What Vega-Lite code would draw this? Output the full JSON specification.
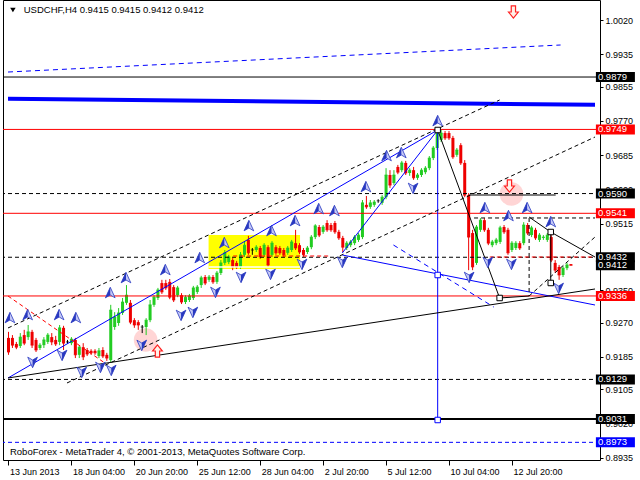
{
"$schema": "https://vega.github.io/schema/vega-lite/v6.json",
"width": 597, "height": 460,
"autosize": {"type": "none"},
"padding": {"left": 3, "top": 0, "right": 40, "bottom": 20},
"background": "white",
"config": {"font": "Liberation Sans", "view": {"stroke": "black", "strokeWidth": 1}},
"datasets": {
"candles": [
{"i":0,"o":0.9232,"h":0.9247,"l":0.9190,"c":0.9197},{"i":1,"o":0.9232,"h":0.9239,"l":0.9207,"c":0.9214},{"i":2,"o":0.9217,"h":0.9222,"l":0.9204,"c":0.9209},{"i":3,"o":0.9212,"h":0.9244,"l":0.9207,"c":0.9234},{"i":4,"o":0.9239,"h":0.9252,"l":0.9214,"c":0.9219},{"i":5,"o":0.9234,"h":0.9264,"l":0.9227,"c":0.9247},{"i":6,"o":0.9247,"h":0.9252,"l":0.9207,"c":0.9214},{"i":7,"o":0.9227,"h":0.9232,"l":0.9197,"c":0.9202},{"i":8,"o":0.9207,"h":0.9219,"l":0.9202,"c":0.9214},{"i":9,"o":0.9214,"h":0.9234,"l":0.9207,"c":0.9227},
{"i":10,"o":0.9222,"h":0.9244,"l":0.9217,"c":0.9239},{"i":11,"o":0.9234,"h":0.9244,"l":0.9214,"c":0.9222},{"i":12,"o":0.9227,"h":0.9237,"l":0.9212,"c":0.9217},{"i":13,"o":0.9222,"h":0.9264,"l":0.9214,"c":0.9257},{"i":14,"o":0.9257,"h":0.9262,"l":0.9202,"c":0.9219},{"i":15,"o":0.9222,"h":0.9227,"l":0.9217,"c":0.9222},{"i":16,"o":0.9219,"h":0.9234,"l":0.9214,"c":0.9229},{"i":17,"o":0.9227,"h":0.9232,"l":0.9182,"c":0.9190},{"i":18,"o":0.9190,"h":0.9214,"l":0.9182,"c":0.9209},{"i":19,"o":0.9209,"h":0.9219,"l":0.9177,"c":0.9185},
{"i":20,"o":0.9202,"h":0.9207,"l":0.9187,"c":0.9192},{"i":21,"o":0.9200,"h":0.9204,"l":0.9190,"c":0.9195},{"i":22,"o":0.9200,"h":0.9204,"l":0.9190,"c":0.9195},{"i":23,"o":0.9187,"h":0.9207,"l":0.9182,"c":0.9200},{"i":24,"o":0.9202,"h":0.9209,"l":0.9182,"c":0.9187},{"i":25,"o":0.9190,"h":0.9195,"l":0.9175,"c":0.9182},{"i":26,"o":0.9177,"h":0.9314,"l":0.9172,"c":0.9301},{"i":27,"o":0.9259,"h":0.9296,"l":0.9252,"c":0.9284},{"i":28,"o":0.9269,"h":0.9306,"l":0.9262,"c":0.9294},{"i":29,"o":0.9294,"h":0.9331,"l":0.9289,"c":0.9321},
{"i":30,"o":0.9319,"h":0.9363,"l":0.9314,"c":0.9338},{"i":31,"o":0.9319,"h":0.9326,"l":0.9266,"c":0.9271},{"i":32,"o":0.9276,"h":0.9281,"l":0.9257,"c":0.9264},{"i":33,"o":0.9271,"h":0.9276,"l":0.9252,"c":0.9264},{"i":34,"o":0.9259,"h":0.9264,"l":0.9244,"c":0.9259},{"i":35,"o":0.9259,"h":0.9281,"l":0.9239,"c":0.9276},{"i":36,"o":0.9276,"h":0.9326,"l":0.9271,"c":0.9314},{"i":37,"o":0.9314,"h":0.9338,"l":0.9309,"c":0.9333},{"i":38,"o":0.9331,"h":0.9356,"l":0.9326,"c":0.9351},{"i":39,"o":0.9368,"h":0.9376,"l":0.9341,"c":0.9346},
{"i":40,"o":0.9368,"h":0.9376,"l":0.9351,"c":0.9356},{"i":41,"o":0.9371,"h":0.9378,"l":0.9328,"c":0.9333},{"i":42,"o":0.9358,"h":0.9363,"l":0.9321,"c":0.9326},{"i":43,"o":0.9338,"h":0.9361,"l":0.9333,"c":0.9356},{"i":44,"o":0.9338,"h":0.9343,"l":0.9316,"c":0.9321},{"i":45,"o":0.9321,"h":0.9338,"l":0.9316,"c":0.9333},{"i":46,"o":0.9326,"h":0.9341,"l":0.9321,"c":0.9336},{"i":47,"o":0.9331,"h":0.9361,"l":0.9326,"c":0.9356},{"i":48,"o":0.9346,"h":0.9363,"l":0.9341,"c":0.9358},{"i":49,"o":0.9363,"h":0.9386,"l":0.9356,"c":0.9381},
{"i":50,"o":0.9383,"h":0.9388,"l":0.9363,"c":0.9368},{"i":51,"o":0.9376,"h":0.9388,"l":0.9371,"c":0.9383},{"i":52,"o":0.9383,"h":0.9388,"l":0.9366,"c":0.9371},{"i":53,"o":0.9371,"h":0.9398,"l":0.9366,"c":0.9393},{"i":54,"o":0.9393,"h":0.9425,"l":0.9388,"c":0.9418},{"i":55,"o":0.9418,"h":0.9450,"l":0.9413,"c":0.9443},{"i":56,"o":0.9420,"h":0.9438,"l":0.9415,"c":0.9433},{"i":57,"o":0.9425,"h":0.9430,"l":0.9400,"c":0.9408},{"i":58,"o":0.9418,"h":0.9423,"l":0.9403,"c":0.9408},{"i":59,"o":0.9408,"h":0.9445,"l":0.9403,"c":0.9438},
{"i":60,"o":0.9438,"h":0.9470,"l":0.9433,"c":0.9462},{"i":61,"o":0.9475,"h":0.9485,"l":0.9438,"c":0.9443},{"i":62,"o":0.9450,"h":0.9455,"l":0.9438,"c":0.9450},{"i":63,"o":0.9450,"h":0.9462,"l":0.9445,"c":0.9457},{"i":64,"o":0.9455,"h":0.9460,"l":0.9428,"c":0.9433},{"i":65,"o":0.9438,"h":0.9467,"l":0.9433,"c":0.9462},{"i":66,"o":0.9457,"h":0.9462,"l":0.9408,"c":0.9413},{"i":67,"o":0.9438,"h":0.9472,"l":0.9433,"c":0.9467},{"i":68,"o":0.9457,"h":0.9462,"l":0.9438,"c":0.9443},{"i":69,"o":0.9455,"h":0.9460,"l":0.9438,"c":0.9443},
{"i":70,"o":0.9450,"h":0.9455,"l":0.9433,"c":0.9438},{"i":71,"o":0.9443,"h":0.9460,"l":0.9438,"c":0.9455},{"i":72,"o":0.9450,"h":0.9475,"l":0.9445,"c":0.9470},{"i":73,"o":0.9467,"h":0.9500,"l":0.9450,"c":0.9455},{"i":74,"o":0.9462,"h":0.9467,"l":0.9440,"c":0.9445},{"i":75,"o":0.9450,"h":0.9455,"l":0.9433,"c":0.9438},{"i":76,"o":0.9445,"h":0.9460,"l":0.9440,"c":0.9455},{"i":77,"o":0.9457,"h":0.9487,"l":0.9452,"c":0.9482},{"i":78,"o":0.9482,"h":0.9514,"l":0.9477,"c":0.9510},{"i":79,"o":0.9507,"h":0.9512,"l":0.9482,"c":0.9487},
{"i":80,"o":0.9495,"h":0.9512,"l":0.9490,"c":0.9507},{"i":81,"o":0.9517,"h":0.9524,"l":0.9495,"c":0.9500},{"i":82,"o":0.9512,"h":0.9517,"l":0.9495,"c":0.9500},{"i":83,"o":0.9517,"h":0.9522,"l":0.9490,"c":0.9495},{"i":84,"o":0.9495,"h":0.9500,"l":0.9475,"c":0.9480},{"i":85,"o":0.9480,"h":0.9485,"l":0.9445,"c":0.9457},{"i":86,"o":0.9455,"h":0.9472,"l":0.9450,"c":0.9467},{"i":87,"o":0.9462,"h":0.9475,"l":0.9457,"c":0.9470},{"i":88,"o":0.9467,"h":0.9487,"l":0.9462,"c":0.9482},{"i":89,"o":0.9475,"h":0.9492,"l":0.9470,"c":0.9487},
{"i":90,"o":0.9482,"h":0.9574,"l":0.9477,"c":0.9567},{"i":91,"o":0.9562,"h":0.9584,"l":0.9552,"c":0.9557},{"i":92,"o":0.9557,"h":0.9574,"l":0.9552,"c":0.9567},{"i":93,"o":0.9562,"h":0.9574,"l":0.9557,"c":0.9569},{"i":94,"o":0.9572,"h":0.9576,"l":0.9567,"c":0.9572},{"i":95,"o":0.9567,"h":0.9586,"l":0.9562,"c":0.9581},{"i":96,"o":0.9581,"h":0.9653,"l":0.9576,"c":0.9636},{"i":97,"o":0.9636,"h":0.9648,"l":0.9604,"c":0.9611},{"i":98,"o":0.9616,"h":0.9648,"l":0.9611,"c":0.9636},{"i":99,"o":0.9656,"h":0.9661,"l":0.9638,"c":0.9643},
{"i":100,"o":0.9648,"h":0.9671,"l":0.9643,"c":0.9666},{"i":101,"o":0.9666,"h":0.9671,"l":0.9636,"c":0.9641},{"i":102,"o":0.9641,"h":0.9653,"l":0.9634,"c":0.9648},{"i":103,"o":0.9648,"h":0.9656,"l":0.9624,"c":0.9629},{"i":104,"o":0.9629,"h":0.9641,"l":0.9624,"c":0.9636},{"i":105,"o":0.9636,"h":0.9653,"l":0.9631,"c":0.9648},{"i":106,"o":0.9643,"h":0.9658,"l":0.9638,"c":0.9653},{"i":107,"o":0.9653,"h":0.9683,"l":0.9648,"c":0.9678},{"i":108,"o":0.9678,"h":0.9708,"l":0.9673,"c":0.9703},{"i":109,"o":0.9703,"h":0.9748,"l":0.9698,"c":0.9740},
{"i":110,"o":0.9723,"h":0.9748,"l":0.9718,"c":0.9740},{"i":111,"o":0.9740,"h":0.9745,"l":0.9723,"c":0.9728},{"i":112,"o":0.9740,"h":0.9745,"l":0.9723,"c":0.9728},{"i":113,"o":0.9728,"h":0.9733,"l":0.9676,"c":0.9681},{"i":114,"o":0.9686,"h":0.9703,"l":0.9681,"c":0.9698},{"i":115,"o":0.9710,"h":0.9715,"l":0.9661,"c":0.9666},{"i":116,"o":0.9666,"h":0.9673,"l":0.9581,"c":0.9586},{"i":117,"o":0.9586,"h":0.9591,"l":0.9400,"c":0.9482},{"i":118,"o":0.9492,"h":0.9500,"l":0.9400,"c":0.9408},{"i":119,"o":0.9418,"h":0.9512,"l":0.9413,"c":0.9507},
{"i":120,"o":0.9500,"h":0.9529,"l":0.9495,"c":0.9524},{"i":121,"o":0.9524,"h":0.9529,"l":0.9495,"c":0.9500},{"i":122,"o":0.9500,"h":0.9505,"l":0.9462,"c":0.9467},{"i":123,"o":0.9462,"h":0.9475,"l":0.9457,"c":0.9470},{"i":124,"o":0.9467,"h":0.9480,"l":0.9462,"c":0.9475},{"i":125,"o":0.9470,"h":0.9510,"l":0.9465,"c":0.9505},{"i":126,"o":0.9507,"h":0.9512,"l":0.9490,"c":0.9495},{"i":127,"o":0.9500,"h":0.9505,"l":0.9438,"c":0.9443},{"i":128,"o":0.9450,"h":0.9472,"l":0.9445,"c":0.9467},{"i":129,"o":0.9455,"h":0.9472,"l":0.9450,"c":0.9467},
{"i":130,"o":0.9467,"h":0.9472,"l":0.9450,"c":0.9455},{"i":131,"o":0.9467,"h":0.9519,"l":0.9462,"c":0.9512},{"i":132,"o":0.9512,"h":0.9517,"l":0.9487,"c":0.9492},{"i":133,"o":0.9487,"h":0.9510,"l":0.9482,"c":0.9505},{"i":134,"o":0.9500,"h":0.9505,"l":0.9475,"c":0.9480},{"i":135,"o":0.9475,"h":0.9492,"l":0.9470,"c":0.9487},{"i":136,"o":0.9480,"h":0.9487,"l":0.9475,"c":0.9482},{"i":137,"o":0.9475,"h":0.9492,"l":0.9470,"c":0.9487},{"i":138,"o":0.9482,"h":0.9487,"l":0.9420,"c":0.9425},{"i":139,"o":0.9418,"h":0.9425,"l":0.9393,"c":0.9400},
{"i":140,"o":0.9408,"h":0.9413,"l":0.9376,"c":0.9388},{"i":141,"o":0.9388,"h":0.9410,"l":0.9383,"c":0.9405},{"i":142,"o":0.9405,"h":0.9418,"l":0.9400,"c":0.9413},{"i":143,"o":0.9415,"h":0.9415,"l":0.9412,"c":0.9412}
],
"levels": [
{"p":0.9879,"k":"black"},{"p":0.9749,"k":"red"},{"p":0.9590,"k":"blackdash"},{"p":0.9541,"k":"red"},{"p":0.9432,"k":"blackdash"},{"p":0.9336,"k":"red"},{"p":0.9129,"k":"blackdash"},{"p":0.9031,"k":"blackthick"},{"p":0.8973,"k":"bluedash"}
],
"segs": [
{"x1":50.875,"y1":0.94078,"x2":74.125,"y2":0.94078,"k":"white"},
{"x1":-0.125,"y1":0.9825,"x2":149.125,"y2":0.9810,"k":"bluethick"},
{"x1":-0.125,"y1":0.98914,"x2":140.375,"y2":0.99584,"k":"bluedash"},
{"x1":-0.125,"y1":0.91326,"x2":109.125,"y2":0.97476,"k":"blue"},
{"x1":84.875,"y1":0.94426,"x2":109.125,"y2":0.97476,"k":"blue"},
{"x1":84.875,"y1":0.94376,"x2":149.125,"y2":0.93136,"k":"blue"},
{"x1":109.125,"y1":0.97476,"x2":109.125,"y2":0.90284,"k":"blue"},
{"x1":97.875,"y1":0.94624,"x2":123.375,"y2":0.93086,"k":"bluedash"},
{"x1":-0.125,"y1":0.92566,"x2":124.875,"y2":0.9822,"k":"blackdash"},
{"x1":14.875,"y1":0.91202,"x2":149.125,"y2":0.97302,"k":"blackdash"},
{"x1":-0.125,"y1":0.93359,"x2":24.125,"y2":0.91722,"k":"reddash"},
{"x1":-0.125,"y1":0.91326,"x2":149.125,"y2":0.93533,"k":"black"},
{"x1":109.125,"y1":0.97476,"x2":124.875,"y2":0.93310,"k":"black"},
{"x1":124.875,"y1":0.93310,"x2":132.375,"y2":0.93359,"k":"black"},
{"x1":132.375,"y1":0.95294,"x2":132.375,"y2":0.93359,"k":"blackdash"},
{"x1":118.375,"y1":0.95294,"x2":149.125,"y2":0.95294,"k":"blackdash"},
{"x1":132.375,"y1":0.95318,"x2":137.875,"y2":0.94946,"k":"black"},
{"x1":137.875,"y1":0.94946,"x2":149.125,"y2":0.94326,"k":"black"},
{"x1":137.875,"y1":0.94946,"x2":137.875,"y2":0.93682,"k":"black"},
{"x1":132.375,"y1":0.93359,"x2":149.125,"y2":0.94822,"k":"blackdash"},
{"x1":117.125,"y1":0.95864,"x2":139.125,"y2":0.95864,"k":"black"},
{"x1":57.125,"y1":0.94351,"x2":81.625,"y2":0.94351,"k":"reddash"},
{"x1":122.375,"y1":0.94326,"x2":149.125,"y2":0.94326,"k":"reddash"}
],
"zones": [{"x1":50.875,"x2":74.125,"y1":0.94872,"y2":0.94029}],
"pts": [
{"i":0.375,"p":0.92814,"k":"up"},{"i":4.875,"p":0.92888,"k":"up"},{"i":12.875,"p":0.92888,"k":"up"},{"i":17.125,"p":0.92814,"k":"up"},{"i":25.875,"p":0.93434,"k":"up"},{"i":29.875,"p":0.93806,"k":"up"},{"i":39.875,"p":0.94004,"k":"up"},{"i":48.625,"p":0.94302,"k":"up"},{"i":54.875,"p":0.94674,"k":"up"},{"i":61.125,"p":0.95095,"k":"up"},{"i":66.875,"p":0.94971,"k":"up"},{"i":72.875,"p":0.95219,"k":"up"},{"i":78.875,"p":0.95517,"k":"up"},{"i":82.875,"p":0.95467,"k":"up"},{"i":90.875,"p":0.96062,"k":"up"},{"i":96.125,"p":0.96831,"k":"up"},{"i":99.875,"p":0.96906,"k":"up"},{"i":109.125,"p":0.97699,"k":"up"},{"i":121.125,"p":0.95542,"k":"up"},{"i":127.125,"p":0.95343,"k":"up"},{"i":131.875,"p":0.95542,"k":"up"},{"i":137.875,"p":0.95194,"k":"up"},
{"i":6.125,"p":0.91722,"k":"down"},{"i":13.625,"p":0.91896,"k":"down"},{"i":18.625,"p":0.91474,"k":"down"},{"i":23.375,"p":0.91598,"k":"down"},{"i":26.125,"p":0.91524,"k":"down"},{"i":33.875,"p":0.92144,"k":"down"},{"i":43.875,"p":0.92888,"k":"down"},{"i":46.875,"p":0.92962,"k":"down"},{"i":52.625,"p":0.93458,"k":"down"},{"i":59.125,"p":0.93830,"k":"down"},{"i":66.625,"p":0.93905,"k":"down"},{"i":74.625,"p":0.94153,"k":"down"},{"i":84.875,"p":0.94202,"k":"down"},{"i":102.875,"p":0.96038,"k":"down"},{"i":117.125,"p":0.93830,"k":"down"},{"i":121.875,"p":0.94202,"k":"down"},{"i":127.875,"p":0.94153,"k":"down"},{"i":139.875,"p":0.93558,"k":"down"},
{"i":109.125,"p":0.97476,"k":"sq"},{"i":124.875,"p":0.93310,"k":"sq"},{"i":137.875,"p":0.94946,"k":"sq"},{"i":137.875,"p":0.93682,"k":"sq"},
{"i":109.125,"p":0.9388,"k":"sqb"},{"i":109.125,"p":0.90284,"k":"sqb"},
{"i":34.875,"p":0.92268,"k":"pink"},{"i":127.875,"p":0.95889,"k":"pink"},
{"i":128.375,"p":1.00402,"k":"rdown"},{"i":127.375,"p":0.96087,"k":"rdown"},{"i":37.875,"p":0.91995,"k":"rup"},
{"i":1.125,"p":1.00452,"k":"tri"}
],
"notes": [
{"i":3.875,"p":1.00452,"t":"USDCHF,H4  0.9415 0.9415 0.9412 0.9412"},
{"i":0.375,"p":0.8949,"t":"RoboForex - MetaTrader 4, © 2001-2013, MetaQuotes Software Corp."}
],
"tags": [
{"p":0.9879,"t":"0.9879","k":"black"},{"p":0.9749,"t":"0.9749","k":"red"},{"p":0.9590,"t":"0.9590","k":"black"},{"p":0.9541,"t":"0.9541","k":"red"},{"p":0.9412,"t":"0.9412","k":"black"},{"p":0.9432,"t":"0.9432","k":"black"},{"p":0.9336,"t":"0.9336","k":"red"},{"p":0.9129,"t":"0.9129","k":"black"},{"p":0.9031,"t":"0.9031","k":"black"},{"p":0.8973,"t":"0.8973","k":"blue"}
]
},
"encoding": {
"x": {"type": "quantitative", "scale": {"domain": [-0.125, 149.125], "nice": false, "zero": false},
"axis": {"values": [0,16,32,48,64,80,96,112,128], "labelExpr": "['13 Jun 2013','18 Jun 04:00','20 Jun 20:00','25 Jun 12:00','28 Jun 04:00','2 Jul 20:00','5 Jul 12:00','10 Jul 04:00','12 Jul 20:00'][round(datum.value/16)]", "title": null, "grid": false, "domain": false, "tickColor": "black", "tickSize": 5, "labelAlign": "left", "labelBaseline": "top", "labelPadding": 2, "labelOffset": 1, "labelFont": "Liberation Sans", "labelFontSize": 9, "labelColor": "black", "labelOverlap": false, "labelFlush": false}},
"y": {"type": "quantitative", "scale": {"domain": [0.89292, 1.0070], "nice": false, "zero": false},
"axis": {"orient": "right", "values": [1.0020,0.9935,0.9855,0.9770,0.9685,0.9600,0.9515,0.9350,0.9270,0.9185,0.9105,0.9020,0.8935], "format": ".4f", "title": null, "grid": false, "domain": false, "tickColor": "black", "tickSize": 3, "labelPadding": 2, "labelFont": "Liberation Sans", "labelFontSize": 9, "labelColor": "black", "labelOverlap": false, "labelFlush": false, "labelBaseline": "middle"}}
},
"layer": [
{"data": {"name": "zones"}, "mark": {"type": "rect", "color": "#ffff00"}, "encoding": {"x": {"field": "x1", "type": "quantitative"}, "x2": {"field": "x2"}, "y": {"field": "y1", "type": "quantitative"}, "y2": {"field": "y2"}}},
{"data": {"name": "pts"}, "transform": [{"filter": "datum.k == 'pink'"}], "mark": {"type": "point", "shape": "circle", "filled": true, "color": "#ffcaca", "opacity": 0.8, "size": 560}, "encoding": {"x": {"field": "i", "type": "quantitative"}, "y": {"field": "p", "type": "quantitative"}}},
{"data": {"name": "candles"}, "mark": {"type": "rule", "strokeWidth": 1}, "encoding": {"x": {"field": "i", "type": "quantitative"}, "y": {"field": "l", "type": "quantitative"}, "y2": {"field": "h"}, "color": {"condition": [{"test": "datum.c > datum.o", "value": "#22cc22"}, {"test": "datum.c < datum.o", "value": "#ee0000"}], "value": "#000000"}}},
{"data": {"name": "candles"}, "mark": {"type": "bar", "width": 3}, "encoding": {"x": {"field": "i", "type": "quantitative"}, "y": {"field": "o", "type": "quantitative"}, "y2": {"field": "c"}, "color": {"condition": [{"test": "datum.c > datum.o", "value": "#22cc22"}, {"test": "datum.c < datum.o", "value": "#ee0000"}], "value": "#000000"}}},
{"data": {"name": "candles"}, "mark": {"type": "tick", "orient": "horizontal", "size": 3, "thickness": 1}, "encoding": {"x": {"field": "i", "type": "quantitative"}, "y": {"field": "c", "type": "quantitative"}, "color": {"condition": [{"test": "datum.c > datum.o", "value": "#22cc22"}, {"test": "datum.c < datum.o", "value": "#ee0000"}], "value": "#000000"}}},
{"data": {"name": "levels"}, "transform": [{"filter": "datum.k == 'red'"}], "mark": {"type": "rule", "color": "#ff0000", "strokeWidth": 1}, "encoding": {"y": {"field": "p", "type": "quantitative"}}},
{"data": {"name": "levels"}, "transform": [{"filter": "datum.k == 'black'"}], "mark": {"type": "rule", "color": "#000000", "strokeWidth": 1}, "encoding": {"y": {"field": "p", "type": "quantitative"}}},
{"data": {"name": "levels"}, "transform": [{"filter": "datum.k == 'blackthick'"}], "mark": {"type": "rule", "color": "#000000", "strokeWidth": 2}, "encoding": {"y": {"field": "p", "type": "quantitative"}}},
{"data": {"name": "levels"}, "transform": [{"filter": "datum.k == 'blackdash'"}], "mark": {"type": "rule", "color": "#000000", "strokeWidth": 1, "strokeDash": [4, 3]}, "encoding": {"y": {"field": "p", "type": "quantitative"}}},
{"data": {"name": "levels"}, "transform": [{"filter": "datum.k == 'bluedash'"}], "mark": {"type": "rule", "color": "#0000ff", "strokeWidth": 1, "strokeDash": [4, 3]}, "encoding": {"y": {"field": "p", "type": "quantitative"}}},
{"data": {"name": "segs"}, "transform": [{"filter": "datum.k == 'white'"}], "mark": {"type": "rule", "color": "#ffffff", "strokeWidth": 1.5}, "encoding": {"x": {"field": "x1", "type": "quantitative"}, "x2": {"field": "x2"}, "y": {"field": "y1", "type": "quantitative"}, "y2": {"field": "y2"}}},
{"data": {"name": "segs"}, "transform": [{"filter": "datum.k == 'bluethick'"}], "mark": {"type": "rule", "color": "#0000ff", "strokeWidth": 4}, "encoding": {"x": {"field": "x1", "type": "quantitative"}, "x2": {"field": "x2"}, "y": {"field": "y1", "type": "quantitative"}, "y2": {"field": "y2"}}},
{"data": {"name": "segs"}, "transform": [{"filter": "datum.k == 'blue'"}], "mark": {"type": "rule", "color": "#0000ff", "strokeWidth": 1}, "encoding": {"x": {"field": "x1", "type": "quantitative"}, "x2": {"field": "x2"}, "y": {"field": "y1", "type": "quantitative"}, "y2": {"field": "y2"}}},
{"data": {"name": "segs"}, "transform": [{"filter": "datum.k == 'bluedash'"}], "mark": {"type": "rule", "color": "#0000ff", "strokeWidth": 1, "strokeDash": [5, 4]}, "encoding": {"x": {"field": "x1", "type": "quantitative"}, "x2": {"field": "x2"}, "y": {"field": "y1", "type": "quantitative"}, "y2": {"field": "y2"}}},
{"data": {"name": "segs"}, "transform": [{"filter": "datum.k == 'black'"}], "mark": {"type": "rule", "color": "#000000", "strokeWidth": 1}, "encoding": {"x": {"field": "x1", "type": "quantitative"}, "x2": {"field": "x2"}, "y": {"field": "y1", "type": "quantitative"}, "y2": {"field": "y2"}}},
{"data": {"name": "segs"}, "transform": [{"filter": "datum.k == 'blackdash'"}], "mark": {"type": "rule", "color": "#000000", "strokeWidth": 1, "strokeDash": [4, 3]}, "encoding": {"x": {"field": "x1", "type": "quantitative"}, "x2": {"field": "x2"}, "y": {"field": "y1", "type": "quantitative"}, "y2": {"field": "y2"}}},
{"data": {"name": "segs"}, "transform": [{"filter": "datum.k == 'reddash'"}], "mark": {"type": "rule", "color": "#ff0000", "strokeWidth": 1, "strokeDash": [4, 3]}, "encoding": {"x": {"field": "x1", "type": "quantitative"}, "x2": {"field": "x2"}, "y": {"field": "y1", "type": "quantitative"}, "y2": {"field": "y2"}}},
{"data": {"name": "pts"}, "transform": [{"filter": "datum.k == 'up'"}], "mark": {"type": "point", "shape": "M0,-1 L0.85,0.85 L0,0.35 L-0.85,0.85 Z", "filled": true, "fill": "#c4c8f6", "stroke": "#2838c0", "strokeWidth": 0.8, "size": 130, "opacity": 1}, "encoding": {"x": {"field": "i", "type": "quantitative"}, "y": {"field": "p", "type": "quantitative"}}},
{"data": {"name": "pts"}, "transform": [{"filter": "datum.k == 'up'"}], "mark": {"type": "point", "shape": "M0,-1 L-0.85,0.85 L0,0.35 Z", "filled": true, "fill": "#2838c0", "size": 130, "opacity": 1}, "encoding": {"x": {"field": "i", "type": "quantitative"}, "y": {"field": "p", "type": "quantitative"}}},
{"data": {"name": "pts"}, "transform": [{"filter": "datum.k == 'down'"}], "mark": {"type": "point", "shape": "M0,1 L0.85,-0.85 L0,-0.35 L-0.85,-0.85 Z", "filled": true, "fill": "#c4c8f6", "stroke": "#2838c0", "strokeWidth": 0.8, "size": 130, "opacity": 1}, "encoding": {"x": {"field": "i", "type": "quantitative"}, "y": {"field": "p", "type": "quantitative"}}},
{"data": {"name": "pts"}, "transform": [{"filter": "datum.k == 'down'"}], "mark": {"type": "point", "shape": "M0,1 L0.85,-0.85 L0,-0.35 Z", "filled": true, "fill": "#2838c0", "size": 130, "opacity": 1}, "encoding": {"x": {"field": "i", "type": "quantitative"}, "y": {"field": "p", "type": "quantitative"}}},
{"data": {"name": "pts"}, "transform": [{"filter": "datum.k == 'sq'"}], "mark": {"type": "point", "shape": "square", "filled": true, "fill": "white", "stroke": "black", "strokeWidth": 1, "size": 30, "opacity": 1}, "encoding": {"x": {"field": "i", "type": "quantitative"}, "y": {"field": "p", "type": "quantitative"}}},
{"data": {"name": "pts"}, "transform": [{"filter": "datum.k == 'sqb'"}], "mark": {"type": "point", "shape": "square", "filled": true, "fill": "white", "stroke": "#0000ff", "strokeWidth": 1, "size": 30, "opacity": 1}, "encoding": {"x": {"field": "i", "type": "quantitative"}, "y": {"field": "p", "type": "quantitative"}}},
{"data": {"name": "pts"}, "transform": [{"filter": "datum.k == 'rdown'"}], "mark": {"type": "point", "shape": "M-0.35,-1 L0.35,-1 L0.35,0 L0.8,0 L0,1 L-0.8,0 L-0.35,0 Z", "filled": true, "fill": "#fff0e8", "stroke": "#ff2020", "strokeWidth": 1.2, "size": 150, "opacity": 1}, "encoding": {"x": {"field": "i", "type": "quantitative"}, "y": {"field": "p", "type": "quantitative"}}},
{"data": {"name": "pts"}, "transform": [{"filter": "datum.k == 'rup'"}], "mark": {"type": "point", "shape": "M-0.35,1 L0.35,1 L0.35,0 L0.8,0 L0,-1 L-0.8,0 L-0.35,0 Z", "filled": true, "fill": "#fff0e8", "stroke": "#ff2020", "strokeWidth": 1.2, "size": 150, "opacity": 1}, "encoding": {"x": {"field": "i", "type": "quantitative"}, "y": {"field": "p", "type": "quantitative"}}},
{"data": {"name": "pts"}, "transform": [{"filter": "datum.k == 'tri'"}], "mark": {"type": "point", "shape": "triangle-down", "filled": true, "color": "#000000", "size": 30, "opacity": 1}, "encoding": {"x": {"field": "i", "type": "quantitative"}, "y": {"field": "p", "type": "quantitative"}}},
{"data": {"name": "notes"}, "mark": {"type": "text", "align": "left", "baseline": "middle", "font": "Liberation Sans", "fontSize": 9.5, "color": "#000000"}, "encoding": {"x": {"field": "i", "type": "quantitative"}, "y": {"field": "p", "type": "quantitative"}, "text": {"field": "t"}}},
{"data": {"name": "tags"}, "mark": {"type": "tick", "orient": "horizontal", "size": 39, "thickness": 10, "clip": false, "opacity": 1}, "encoding": {"x": {"datum": 154.3125, "type": "quantitative"}, "y": {"field": "p", "type": "quantitative"}, "color": {"field": "k", "type": "nominal", "scale": {"domain": ["black", "red", "blue"], "range": ["#000000", "#ff0000", "#0000ff"]}, "legend": null}}},
{"data": {"name": "tags"}, "mark": {"type": "text", "align": "left", "baseline": "middle", "font": "Liberation Sans", "fontSize": 9.5, "color": "#ffffff", "clip": false}, "encoding": {"x": {"datum": 149.875, "type": "quantitative"}, "y": {"field": "p", "type": "quantitative"}, "text": {"field": "t"}}}
]
}
